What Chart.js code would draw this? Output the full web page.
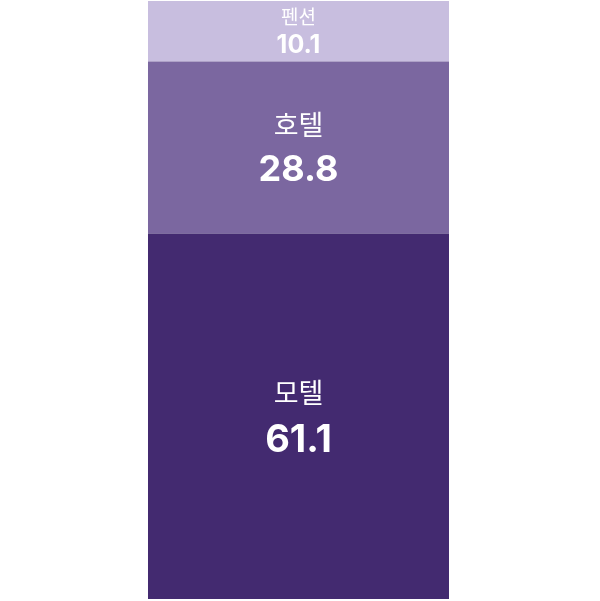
<!DOCTYPE html>
<html>
<head>
<meta charset="utf-8">
<script src="https://cdn.jsdelivr.net/npm/chart.js@4"></script>
<style>
  html, body { margin: 0; padding: 0; background: #fff; }
  #wrap { width: 600px; height: 601px; position: relative; }
</style>
</head>
<body>
<div id="wrap"><canvas id="stackChart"></canvas></div>
<script>
// data, bottom segment first
var categories = ['숙박 유형'];
var types = ['모텔', '호텔', '펜션'];
var shares = [61.1, 28.8, 10.1];

var colors = ['#432a70', '#7b67a0', '#c8bedf'];
// label sizes per segment: name size, value size, gap between the two lines
var labelStyle = [
    { name: 27, value: 38, gap: 48 },
    { name: 27, value: 36, gap: 46 },
    { name: 19, value: 25, gap: 29 }
];

var segmentLabels = {
    id: 'segmentLabels',
    afterDatasetsDraw: function(chart) {
        var ctx = chart.ctx;
        ctx.save();
        ctx.fillStyle = '#ffffff';
        ctx.textAlign = 'center';
        ctx.textBaseline = 'middle';
        chart.data.datasets.forEach(function(ds, i) {
            var meta = chart.getDatasetMeta(i);
            meta.data.forEach(function(bar) {
                var p = bar.getProps(['x', 'y', 'base'], true);
                var cy = (p.y + p.base) / 2;
                var st = labelStyle[i];
                ctx.font = '400 ' + st.name + 'px "Noto Sans CJK KR", "Noto Sans", sans-serif';
                ctx.fillText(ds.label, p.x, cy - st.gap / 2);
                ctx.font = '700 ' + st.value + 'px Inter, "Noto Sans", sans-serif';
                ctx.fillText(ds.data[0].toFixed(1), p.x, cy + st.gap / 2);
            });
        });
        ctx.restore();
    }
};

var ctx = document.getElementById('stackChart').getContext('2d');
var stackChart = new Chart(ctx, {
    type: 'bar',
    data: {
        labels: categories,
        datasets: types.map(function(t, i) {
            return {
                label: t,
                data: [shares[i]],
                backgroundColor: colors[i],
                borderWidth: 0,
                barPercentage: 1,
                categoryPercentage: 0.5042
            };
        })
    },
    options: {
        responsive: true,
        maintainAspectRatio: false,
        animation: false,
        layout: { padding: { top: 1, bottom: 2, left: 0, right: 3 } },
        scales: {
            x: { stacked: true, display: false },
            y: { stacked: true, display: false, min: 0, max: 100 }
        },
        plugins: {
            legend: { display: false },
            tooltip: { enabled: false }
        }
    },
    plugins: [segmentLabels]
});
</script>
</body>
</html>
